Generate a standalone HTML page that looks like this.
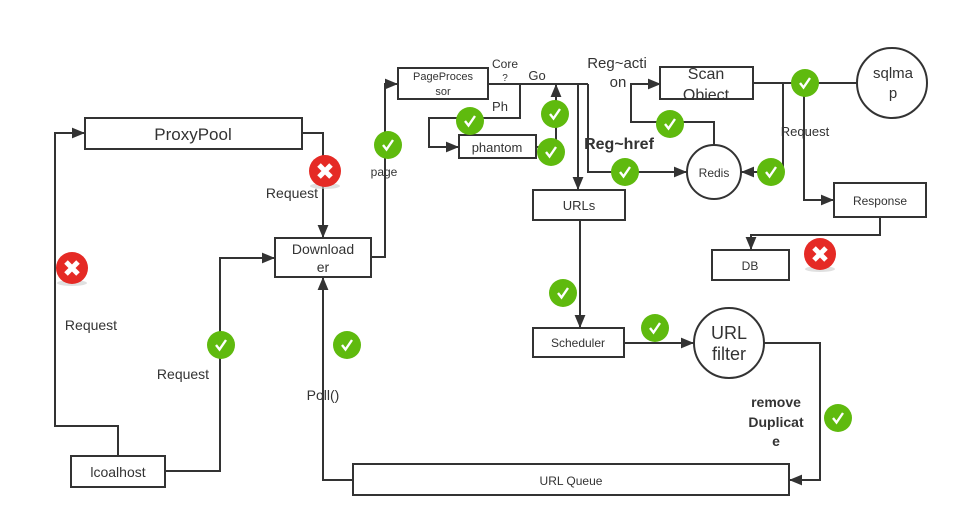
<!DOCTYPE html>
<html><head><meta charset="utf-8"><style>
html,body{margin:0;padding:0;background:#fff;}
svg{display:block;}
text{font-family:"Liberation Sans","DejaVu Sans",sans-serif;fill:#333;}
</style></head><body>
<svg width="958" height="528" viewBox="0 0 958 528" xmlns="http://www.w3.org/2000/svg">
<defs>
<marker id="a" viewBox="0 0 12 10" refX="12" refY="5" markerWidth="13" markerHeight="11" markerUnits="userSpaceOnUse" orient="auto"><path d="M0,0 L12,5 L0,10 z" fill="#333"/></marker>
<g id="ok"><circle r="14" fill="#5fba0e"/><path d="M-5,0 L-1.5,4.5 L5,-5" stroke="#fff" stroke-width="2.4" fill="none"/></g>
<g id="no"><ellipse cx="0" cy="15" rx="15" ry="3" fill="#ccc" opacity="0.6"/><circle r="16" fill="#e52a25"/><path d="M-6,-6 L6,6 M6,-6 L-6,6" stroke="#fff" stroke-width="5"/></g>
</defs>
<g fill="none" stroke="#333" stroke-width="2">
<polyline points="118,456 118,426 55,426 55,133 85,133" marker-end="url(#a)"/>
<polyline points="165,471 220,471 220,258 275,258" marker-end="url(#a)"/>
<polyline points="302,133 323,133 323,238" marker-end="url(#a)"/>
<polyline points="371,257 385,257 385,84 398,84" marker-end="url(#a)"/>
<polyline points="353,480 323,480 323,277" marker-end="url(#a)"/>
<polyline points="488,84 588,84"/>
<polyline points="520,84 520,118 429,118 429,147 459,147" marker-end="url(#a)"/>
<polyline points="536,147 556,147 556,84" marker-end="url(#a)"/>
<polyline points="578,84 578,190" marker-end="url(#a)"/>
<polyline points="588,84 588,172 687,172" marker-end="url(#a)"/>
<polyline points="714,145 714,122 631,122 631,84 661,84" marker-end="url(#a)"/>
<polyline points="753,83 857,83"/>
<polyline points="783,83 783,172 741,172" marker-end="url(#a)"/>
<polyline points="804,83 804,200 834,200" marker-end="url(#a)"/>
<polyline points="880,217 880,235 751,235 751,250" marker-end="url(#a)"/>
<polyline points="580,220 580,328" marker-end="url(#a)"/>
<polyline points="624,343 694,343" marker-end="url(#a)"/>
<polyline points="764,343 820,343 820,480 789,480" marker-end="url(#a)"/>
<rect x="85" y="118" width="217" height="31" fill="#fff"/>
<rect x="275" y="238" width="96" height="39" fill="#fff"/>
<rect x="398" y="68" width="90" height="31" fill="#fff"/>
<rect x="459" y="135" width="77" height="23" fill="#fff"/>
<rect x="533" y="190" width="92" height="30" fill="#fff"/>
<rect x="660" y="67" width="93" height="32" fill="#fff"/>
<rect x="834" y="183" width="92" height="34" fill="#fff"/>
<rect x="712" y="250" width="77" height="30" fill="#fff"/>
<rect x="533" y="328" width="91" height="29" fill="#fff"/>
<rect x="353" y="464" width="436" height="31" fill="#fff"/>
<rect x="71" y="456" width="94" height="31" fill="#fff"/>
<circle cx="714" cy="172" r="27" fill="#fff"/>
<circle cx="892" cy="83" r="35" fill="#fff"/>
<circle cx="729" cy="343" r="35" fill="#fff"/>
</g>
<text x="193" y="140" font-size="17" text-anchor="middle">ProxyPool</text>
<text x="323" y="254" font-size="14" text-anchor="middle">Download</text>
<text x="323" y="272" font-size="14" text-anchor="middle">er</text>
<text x="443" y="80" font-size="11" text-anchor="middle">PageProces</text>
<text x="443" y="95" font-size="11" text-anchor="middle">sor</text>
<text x="497" y="152" font-size="13" text-anchor="middle">phantom</text>
<text x="579" y="210" font-size="13" text-anchor="middle">URLs</text>
<svg x="660" y="67" width="93" height="32"><text x="46" y="12" font-size="16" text-anchor="middle">Scan</text><text x="46" y="33" font-size="16" text-anchor="middle">Object</text></svg>
<text x="714" y="177" font-size="12" text-anchor="middle">Redis</text>
<text x="893" y="78" font-size="15" text-anchor="middle">sqlma</text>
<text x="893" y="98" font-size="15" text-anchor="middle">p</text>
<text x="880" y="205" font-size="12" text-anchor="middle">Response</text>
<text x="750" y="270" font-size="12" text-anchor="middle">DB</text>
<text x="578" y="347" font-size="12" text-anchor="middle">Scheduler</text>
<text x="729" y="339" font-size="18" text-anchor="middle">URL</text>
<text x="729" y="360" font-size="18" text-anchor="middle">filter</text>
<text x="571" y="485" font-size="12" text-anchor="middle">URL Queue</text>
<text x="118" y="477" font-size="14" text-anchor="middle">lcoalhost</text>
<text x="292" y="198" font-size="14" text-anchor="middle">Request</text>
<text x="384" y="176" font-size="12" text-anchor="middle">page</text>
<text x="505" y="68" font-size="12" text-anchor="middle">Core</text>
<text x="505" y="81" font-size="10" text-anchor="middle">?</text>
<text x="537" y="80" font-size="13" text-anchor="middle">Go</text>
<text x="500" y="111" font-size="13" text-anchor="middle">Ph</text>
<text x="617" y="68" font-size="15" text-anchor="middle">Reg~acti</text>
<text x="618" y="87" font-size="15" text-anchor="middle">on</text>
<text x="619" y="149" font-size="16" font-weight="bold" text-anchor="middle">Reg~href</text>
<text x="805" y="136" font-size="13" text-anchor="middle">Request</text>
<text x="91" y="330" font-size="14" text-anchor="middle">Request</text>
<text x="183" y="379" font-size="14" text-anchor="middle">Request</text>
<text x="323" y="400" font-size="14" text-anchor="middle">Poll()</text>
<text x="776" y="407" font-size="14" font-weight="bold" text-anchor="middle">remove</text>
<text x="776" y="427" font-size="14" font-weight="bold" text-anchor="middle">Duplicat</text>
<text x="776" y="446" font-size="14" font-weight="bold" text-anchor="middle">e</text>
<use href="#ok" x="388" y="145"/>
<use href="#ok" x="470" y="121"/>
<use href="#ok" x="555" y="114"/>
<use href="#ok" x="551" y="152"/>
<use href="#ok" x="625" y="172"/>
<use href="#ok" x="670" y="124"/>
<use href="#ok" x="805" y="83"/>
<use href="#ok" x="771" y="172"/>
<use href="#ok" x="563" y="293"/>
<use href="#ok" x="655" y="328"/>
<use href="#ok" x="221" y="345"/>
<use href="#ok" x="347" y="345"/>
<use href="#ok" x="838" y="418"/>
<use href="#no" x="325" y="171"/>
<use href="#no" x="72" y="268"/>
<use href="#no" x="820" y="254"/>
</svg>
</body></html>
